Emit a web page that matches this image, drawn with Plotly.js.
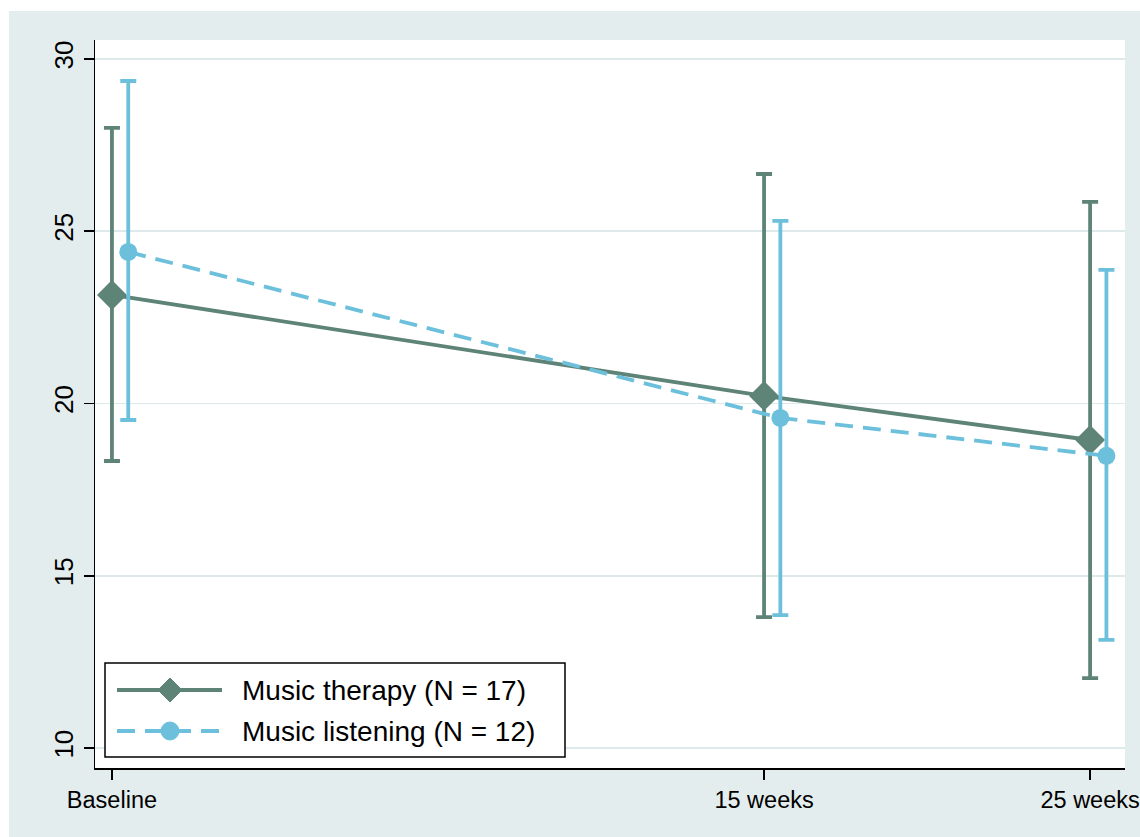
<!DOCTYPE html>
<html>
<head>
<meta charset="utf-8">
<script src="https://cdn.plot.ly/plotly-3.0.1.min.js"></script>
<style>
html,body{margin:0;padding:0;background:#ffffff;}
#chart{position:absolute;left:9px;top:11px;width:1131px;height:826px;}
</style>
</head>
<body>
<div id="chart"></div>
<script>
// Data
const timeLabels = ["Baseline", "15 weeks", "25 weeks"];
const timePos = [0, 2, 3];
const therapyMean = [23.15, 20.22, 18.94];
const therapyUpper = [28.0, 26.66, 25.85];
const therapyLower = [18.33, 13.8, 12.03];
const listeningMean = [24.4, 19.58, 18.48];
const listeningUpper = [29.36, 25.3, 23.88];
const listeningLower = [19.52, 13.86, 13.14];
const yTicks = [10, 15, 20, 25, 30];
const legendNames = ["Music therapy (N = 17)", "Music listening (N = 12)"];

const therapyColor = "#5e8377";
const listeningColor = "#6cc0dc";
const listeningOffset = 0.05;

const traces = [
  {
    x: timePos,
    y: therapyMean,
    mode: "lines+markers",
    name: legendNames[0],
    line: {color: therapyColor, width: 3.8},
    marker: {symbol: "diamond", size: 23, color: therapyColor},
    error_y: {
      type: "data", symmetric: false,
      array: therapyUpper.map((u, i) => u - therapyMean[i]),
      arrayminus: therapyLower.map((l, i) => therapyMean[i] - l),
      color: therapyColor, thickness: 3.8, width: 8
    },
    showlegend: false
  },
  {
    x: timePos.map(p => p + listeningOffset),
    y: listeningMean,
    mode: "lines+markers",
    name: legendNames[1],
    line: {color: listeningColor, width: 3.8, dash: "18px,10px"},
    marker: {symbol: "circle", size: 18, color: listeningColor},
    error_y: {
      type: "data", symmetric: false,
      array: listeningUpper.map((u, i) => u - listeningMean[i]),
      arrayminus: listeningLower.map((l, i) => listeningMean[i] - l),
      color: listeningColor, thickness: 3.8, width: 8
    },
    showlegend: false
  }
];

// custom legend (Stata-style), anchored at the legend box's top-left corner
const lgX = 10 / 1030, lgY = 105 / 728;
const pix = {xref: "paper", yref: "paper", xsizemode: "pixel", ysizemode: "pixel", xanchor: lgX, yanchor: lgY};
const shapes = [
  Object.assign({type: "rect", x0: 0, x1: 460, y0: 0, y1: -94, line: {color: "#000000", width: 1.5}, fillcolor: "#ffffff", layer: "above"}, pix),
  Object.assign({type: "line", x0: 12, x1: 117, y0: -27, y1: -27, line: {color: therapyColor, width: 3.8}, layer: "above"}, pix),
  Object.assign({type: "path", path: "M 53,-27 L 65,-15 L 77,-27 L 65,-39 Z", fillcolor: therapyColor, line: {color: therapyColor, width: 1}, layer: "above"}, pix),
  Object.assign({type: "line", x0: 12, x1: 117, y0: -68, y1: -68, line: {color: listeningColor, width: 3.8, dash: "18px,10px"}, layer: "above"}, pix),
  Object.assign({type: "circle", x0: 56, x1: 74, y0: -59, y1: -77, fillcolor: listeningColor, line: {color: listeningColor, width: 1}, layer: "above"}, pix)
];
const annotations = [
  {xref: "paper", yref: "paper", x: 145 / 1030, y: 78 / 728, xanchor: "left", yanchor: "middle", text: legendNames[0], showarrow: false, font: {family: "Liberation Sans, Arial, sans-serif", size: 28, color: "#000000"}},
  {xref: "paper", yref: "paper", x: 145 / 1030, y: 37 / 728, xanchor: "left", yanchor: "middle", text: legendNames[1], showarrow: false, font: {family: "Liberation Sans, Arial, sans-serif", size: 28, color: "#000000"}}
];

const layout = {
  width: 1131, height: 826,
  margin: {l: 86, r: 15, t: 29, b: 69, pad: 0},
  paper_bgcolor: "#e4eded",
  plot_bgcolor: "#ffffff",
  font: {family: "Liberation Sans, Arial, sans-serif", color: "#000000"},
  showlegend: false,
  xaxis: {
    range: [-0.052, 3.107],
    tickmode: "array", tickvals: timePos, ticktext: timeLabels,
    ticks: "outside", ticklen: 10, tickwidth: 1.5, tickcolor: "#000000",
    showline: true, linecolor: "#000000", linewidth: 1.5,
    showgrid: false, zeroline: false,
    tickfont: {size: 23.5}
  },
  yaxis: {
    range: [9.42, 30.55],
    tickmode: "array", tickvals: yTicks,
    tickangle: -90,
    ticks: "outside", ticklen: 10, tickwidth: 1.5, tickcolor: "#000000",
    showline: true, linecolor: "#000000", linewidth: 1.5,
    showgrid: true, gridcolor: "#dde9eb", gridwidth: 1.5,
    zeroline: false,
    tickfont: {size: 26}
  },
  shapes: shapes,
  annotations: annotations
};

Plotly.newPlot("chart", traces, layout, {displayModeBar: false, staticPlot: true});
</script>
</body>
</html>
